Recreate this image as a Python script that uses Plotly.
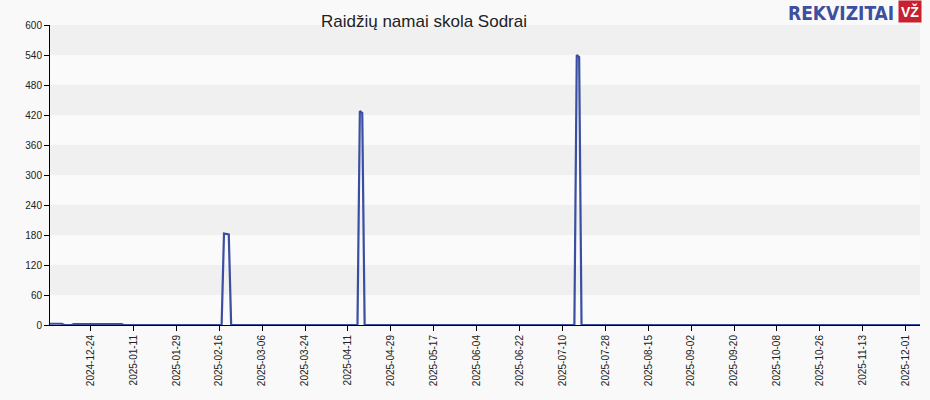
import plotly.graph_objects as go

# Data (sparse change points; between them the series is flat)
dates = ["2024-12-07", "2024-12-12", "2024-12-13", "2024-12-16", "2024-12-17",
         "2025-01-06", "2025-01-07", "2025-02-17", "2025-02-18", "2025-02-19",
         "2025-02-20", "2025-02-21", "2025-04-15", "2025-04-16", "2025-04-17",
         "2025-04-18", "2025-07-15", "2025-07-16", "2025-07-17", "2025-07-18",
         "2025-12-07"]
values = [2.5, 2.5, 0, 0, 2,
          2, 0, 0, 183, 182,
          181, 0, 0, 428, 424,
          0, 0, 540, 536, 0,
          0]

tick_dates = ["2024-12-24", "2025-01-11", "2025-01-29", "2025-02-16", "2025-03-06",
              "2025-03-24", "2025-04-11", "2025-04-29", "2025-05-17", "2025-06-04",
              "2025-06-22", "2025-07-10", "2025-07-28", "2025-08-15", "2025-09-02",
              "2025-09-20", "2025-10-08", "2025-10-26", "2025-11-13", "2025-12-01"]
y_ticks = [0, 60, 120, 180, 240, 300, 360, 420, 480, 540, 600]
title = "Raidžių namai skola Sodrai"

fig = go.Figure()
fig.add_trace(go.Scatter(x=dates, y=values, mode="lines",
                         line=dict(color="#3a4ea2", width=2.2), hoverinfo="skip"))

shapes = []
for i in range(len(y_ticks) - 1):
    band_color = "#f0f0f0" if i % 2 == 1 else "#fafafa"
    shapes.append(dict(type="rect", xref="paper", yref="y", x0=0, x1=1,
                       y0=y_ticks[i], y1=y_ticks[i + 1], fillcolor=band_color,
                       line=dict(width=0), layer="below"))

fig.update_layout(
    width=930, height=400,
    margin=dict(l=50, r=10, t=25, b=75, autoexpand=False),
    paper_bgcolor="#f9f9f9", plot_bgcolor="#fafafa",
    showlegend=False,
    shapes=shapes,
    font=dict(family="Liberation Sans, Arial, sans-serif", size=10, color="#222"),
    annotations=[
        dict(text=title, xref="paper", yref="paper", x=(424 - 50) / 870, y=1.0,
             xanchor="center", yanchor="bottom", yshift=-8, showarrow=False,
             font=dict(size=17, color="#222")),
        dict(text="<b>REKVIZITAI</b>", xref="paper", yref="paper",
             x=(896 - 50) / 870, y=1.0, xanchor="right", yanchor="bottom",
             yshift=-1, showarrow=False,
             font=dict(family="DejaVu Sans Condensed, Liberation Sans Narrow, Arial", size=19, color="#3d4fa0")),
        dict(text="<b>VŽ</b>", xref="paper", yref="paper", x=(898 - 50) / 870, y=1.0,
             xanchor="left", yanchor="bottom", yshift=2, showarrow=False, bgcolor="#c8202f",
             font=dict(family="Liberation Sans, Arial", size=14, color="white"),
             borderpad=2),
    ],
)

fig.update_xaxes(range=["2024-12-07", "2025-12-07"], tickvals=tick_dates,
                 tickformat="%Y-%m-%d", tickangle=-90, showgrid=False, automargin=False,
                 showline=True, linecolor="black", ticks="outside", ticklen=5,
                 tickcolor="black", zeroline=False, tickfont=dict(size=10))
fig.update_yaxes(range=[0, 600], tickvals=y_ticks, showgrid=False, automargin=False,
                 showline=True, linecolor="black", ticks="outside", ticklen=5,
                 tickcolor="black", zeroline=False, tickfont=dict(size=10))

fig.write_html("out.html", config={"displayModeBar": False},
               post_script="document.body.style.margin='0';document.body.style.overflow='hidden';")
